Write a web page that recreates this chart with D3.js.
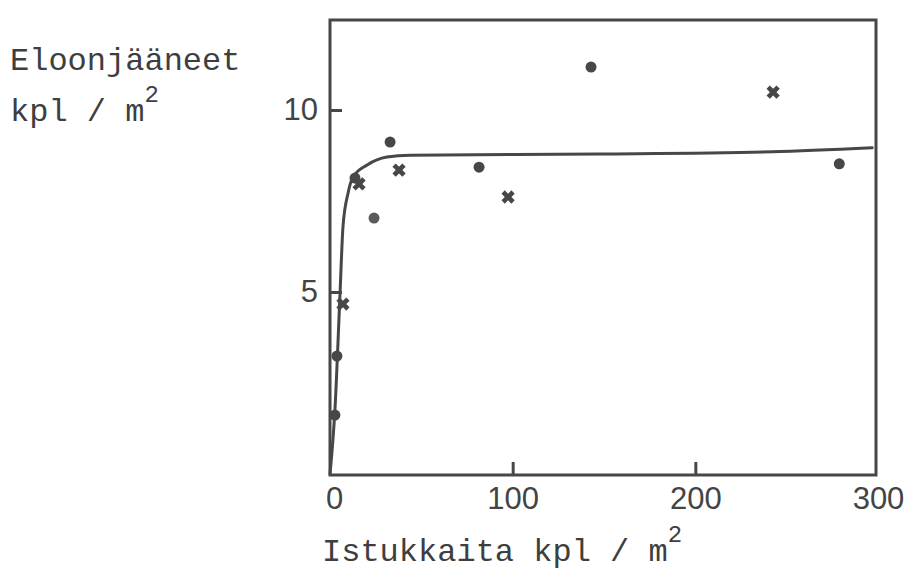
<!DOCTYPE html>
<html>
<head>
<meta charset="utf-8">
<script src="https://cdn.jsdelivr.net/npm/d3@7"></script>
<style>
  html, body { margin: 0; padding: 0; background: #fff; }
  svg { display: block; }
</style>
</head>
<body>
<svg id="chart" width="916" height="574"></svg>
<script>
// ---- data ----
const xTicks = [0, 100, 200, 300];
const yTicks = [5, 10];

// filled circles
const dotX = [2.7, 3.8, 13.7, 24.1, 32.9, 81.6, 142.9, 278.8];
const dotY = [1.62, 3.24, 8.13, 7.03, 9.12, 8.43, 11.18, 8.52];

// cross markers
const crossX = [7.1, 15.9, 37.8, 97.5, 242.6];
const crossY = [4.67, 7.97, 8.35, 7.61, 10.49];

// hand-drawn fitted curve
const curveX = [0, 2.7, 5.5, 7.1, 9.9, 12.6, 20.3, 31.2, 43.8, 147.9, 242, 296.8];
const curveY = [0, 1.76, 4.97, 6.79, 7.72, 8.16, 8.49, 8.71, 8.76, 8.79, 8.85, 8.96];

const xTitle = "Istukkaita kpl / m";
const yTitle1 = "Eloonjääneet";
const yTitle2 = "kpl / m";

// ---- layout ----
const svg = d3.select("#chart");
const fLeft = 330, fRight = 876, fTop = 20, fBottom = 475;
const ink = "#474747";

const x = d3.scaleLinear().domain([0, 300]).range([fLeft, 878]);
const y = d3.scaleLinear().domain([0, 12.5]).range([474, 19]);

// frame
svg.append("rect")
  .attr("x", fLeft).attr("y", fTop)
  .attr("width", fRight - fLeft).attr("height", fBottom - fTop)
  .attr("fill", "none").attr("stroke", ink).attr("stroke-width", 3);

// x axis (ticks inward)
const gx = svg.append("g")
  .attr("transform", `translate(0,${fBottom})`)
  .call(d3.axisBottom(x).tickValues(xTicks).tickSizeInner(-13).tickSizeOuter(0).tickPadding(12));
gx.select(".domain").remove();
gx.selectAll(".tick line").attr("stroke", ink).attr("stroke-width", 3)
  .attr("opacity", (d) => (d === 0 || d === 300) ? 0 : 1);
gx.selectAll(".tick text")
  .attr("fill", "#444")
  .style("font-family", "'Liberation Sans', Arial, sans-serif")
  .style("font-size", "31px");
gx.selectAll(".tick text").filter(d => d === 0).attr("dx", 4);

// y axis (ticks inward)
const gy = svg.append("g")
  .attr("transform", `translate(${fLeft},0)`)
  .call(d3.axisLeft(y).tickValues(yTicks).tickSizeInner(-12).tickSizeOuter(0).tickPadding(12));
gy.select(".domain").remove();
gy.selectAll(".tick line").attr("stroke", ink).attr("stroke-width", 3);
gy.selectAll(".tick text")
  .attr("fill", "#444")
  .style("font-family", "'Liberation Sans', Arial, sans-serif")
  .style("font-size", "31px");

// curve
const curvePts = curveX.map((v, i) => [v, curveY[i]]);
svg.append("path")
  .datum(curvePts)
  .attr("fill", "none")
  .attr("stroke", ink)
  .attr("stroke-width", 3)
  .attr("stroke-linecap", "round")
  .attr("d", d3.line().x(d => x(d[0])).y(d => y(d[1])).curve(d3.curveMonotoneX));

// dots
const dots = dotX.map((v, i) => [v, dotY[i]]);
svg.append("g").selectAll("circle")
  .data(dots).join("circle")
  .attr("cx", d => x(d[0])).attr("cy", d => y(d[1]))
  .attr("r", 5.5)
  .attr("fill", (d, i) => i === 3 ? "#5a5a5a" : ink);

// crosses
const crosses = crossX.map((v, i) => [v, crossY[i]]);
const crossSym = d3.symbol().type(d3.symbolCross).size(110);
svg.append("g").selectAll("path")
  .data(crosses).join("path")
  .attr("transform", d => `translate(${x(d[0])},${y(d[1])}) rotate(45)`)
  .attr("d", crossSym)
  .attr("fill", ink);

// titles
const mono = "'Liberation Mono', 'Courier New', monospace";
const yt = svg.append("g").attr("fill", "#3e3e3e")
  .style("font-family", mono).style("font-size", "32px");
yt.append("text").attr("x", 10).attr("y", 70).text(yTitle1);
const yt2 = yt.append("text").attr("x", 10).attr("y", 121);
yt2.append("tspan").text(yTitle2);
yt2.append("tspan").attr("dy", -19).style("font-size", "24px").text("2");

const xt = svg.append("text").attr("x", 322).attr("y", 561)
  .attr("fill", "#3e3e3e").style("font-family", mono).style("font-size", "32px");
xt.append("tspan").text(xTitle);
xt.append("tspan").attr("dy", -19).style("font-size", "24px").text("2");
</script>
</body>
</html>
